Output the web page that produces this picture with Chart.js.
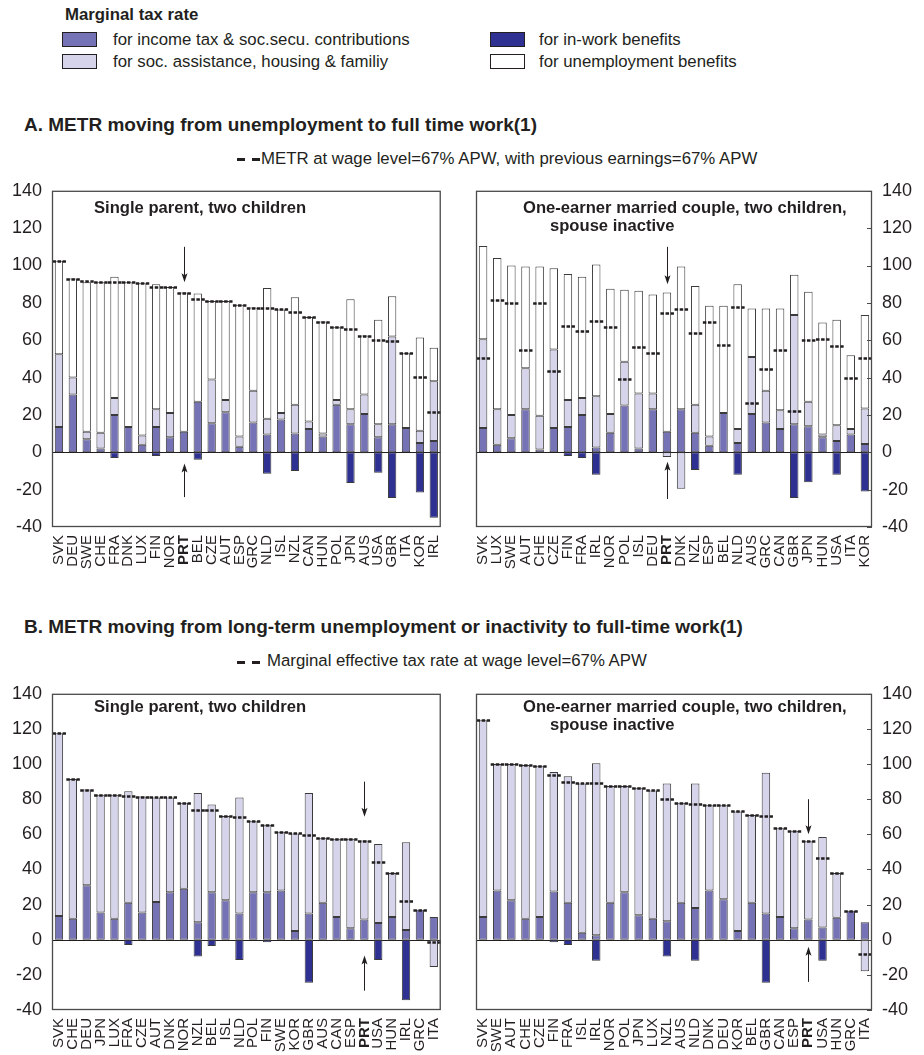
<!DOCTYPE html>
<html>
<head>
<meta charset="utf-8">
<script src="https://cdn.jsdelivr.net/npm/chart.js@4.4.1/dist/chart.umd.min.js"></script>
<style>
  html, body { margin: 0; padding: 0; background: #fff; }
  body { width: 924px; height: 1055px; position: relative; overflow: hidden;
         font-family: "Liberation Sans", Arial, Helvetica, sans-serif; color: #231f20; }
  canvas { position: absolute; }
  .txt { position: absolute; white-space: nowrap; line-height: 1; }
  .bold { font-weight: bold; }
  .box { position: absolute; width: 35px; height: 15px; border: 1px solid #231f20; box-sizing: border-box; }
  .dash { position: absolute; height: 3px; background: repeating-linear-gradient(90deg, #231f20 0 8px, transparent 8px 15px); }
</style>
</head>
<body>

<!-- legend -->
<div class="txt bold" style="left:65px; top:7px; font-size:16.8px;">Marginal tax rate</div>
<div class="box" style="left:62px; top:32px; background:#7672b6;"></div>
<div class="txt" style="left:113px; top:32px; font-size:16.8px;">for income tax &amp; soc.secu. contributions</div>
<div class="box" style="left:62px; top:54px; background:#d5d4eb;"></div>
<div class="txt" style="left:113px; top:54px; font-size:16.8px;">for soc. assistance, housing &amp; familiy</div>
<div class="box" style="left:490px; top:32px; background:#2e3092;"></div>
<div class="txt" style="left:539px; top:32px; font-size:16.8px;">for in-work benefits</div>
<div class="box" style="left:490px; top:54px; background:#ffffff;"></div>
<div class="txt" style="left:539px; top:54px; font-size:16.8px;">for unemployment benefits</div>

<!-- section A -->
<div class="txt bold" style="left:24px; top:115px; font-size:19px;">A. METR moving from unemployment to full time work(1)</div>
<div class="dash" style="left:237px; top:158px; width:23px;"></div>
<div class="txt" style="left:261px; top:151px; font-size:16.8px;">METR at wage level=67% APW, with previous earnings=67% APW</div>
<canvas id="cA1" width="460" height="412" style="left:0px; top:170px;"></canvas>
<canvas id="cA2" width="460" height="412" style="left:464px; top:170px;"></canvas>
<div class="txt bold" style="left:94px; top:200px; font-size:16.6px;">Single parent, two children</div>
<div class="txt bold" style="left:523px; top:200px; font-size:16.6px;">One-earner married couple, two children,</div>
<div class="txt bold" style="left:550px; top:218px; font-size:16.6px;">spouse inactive</div>

<!-- section B -->
<div class="txt bold" style="left:24px; top:617px; font-size:19px;">B. METR moving from long-term unemployment or inactivity to full-time work(1)</div>
<div class="dash" style="left:237px; top:661px; width:23px;"></div>
<div class="txt" style="left:267px; top:653px; font-size:16.8px;">Marginal effective tax rate at wage level=67% APW</div>
<canvas id="cB1" width="460" height="382" style="left:0px; top:673px;"></canvas>
<canvas id="cB2" width="460" height="382" style="left:464px; top:673px;"></canvas>
<div class="txt bold" style="left:94px; top:699px; font-size:16.6px;">Single parent, two children</div>
<div class="txt bold" style="left:523px; top:699px; font-size:16.6px;">One-earner married couple, two children,</div>
<div class="txt bold" style="left:550px; top:717px; font-size:16.6px;">spouse inactive</div>

<script>
// ---------- Panel A, single parent (unemployment -> full-time work) ----------
const COUNTRIES_A1 = ['SVK','DEU','SWE','CHE','FRA','DNK','LUX','FIN','NOR','PRT','BEL','CZE','AUT','ESP','GRC','NLD','ISL','NZL','CAN','HUN','POL','JPN','AUS','USA','GBR','ITA','KOR','IRL'];
const TAX_A1    = [13.5, 31, 7, 2, 20, 13.5, 4, 13.5, 8, 11, 27, 15.5, 21.5, 3, 16, 9.5, 17.5, 10, 12.5, 8.5, 25.5, 15, 20.5, 8, 15, 13, 5, 6];
const ASSIST_A1 = [39, 9, 4, 8.5, 9, 0, 5, 9.5, 13, 0, 0, 23.5, 6.5, 5.5, 17, 8.5, 3.5, 15.5, 4, 1.5, 2.5, 8, 10.5, 7, 47, 0, 6.5, 32];
const UNEMP_A1  = [50, 53, 80, 80.5, 65, 77.5, 81.5, 67, 67.5, 74.5, 58, 42, 53, 70.5, 44.5, 70, 55.5, 57.5, 56, 60, 39, 59, 31.5, 56, 21.5, 40, 50, 18];
const INWORK_A1 = [0, 0, 0, 0, -3, 0, 0, -2, 0, 0, -4, 0, 0, 0, 0, -11.5, 0, -10, 0, 0, 0, -16.5, -0.5, -11, -24.5, 0, -21.5, -35];
const METR_A1   = [102.5, 93, 91.5, 91, 91, 91, 90.5, 88.5, 88.5, 85.5, 82, 81, 81, 79, 77.5, 77, 76.5, 75, 72.5, 70, 67, 66, 62.5, 60, 59.5, 53, 40.5, 21.5];

// ---------- Panel A, one-earner couple ----------
const COUNTRIES_A2 = ['SVK','LUX','SWE','AUT','CHE','CZE','FIN','FRA','IRL','NOR','POL','ISL','DEU','PRT','DNK','NZL','ESP','BEL','NLD','AUS','GRC','CAN','GBR','JPN','HUN','USA','ITA','KOR'];
const TAX_A2    = [13, 4, 7.5, 23, 1.5, 13, 13.5, 20, 2.5, 10.5, 25, 2, 23, 11, 23, 10.5, 3.5, 21, 5, 20.5, 16, 12.5, 15, 14, 8, 6, 9.5, 4.5];
const ASSIST_A2 = [47.5, 19, 12.5, 22, 18, 42, 14.5, 9, 27.5, 10, 23.5, 29.5, 8.5, -2.5, -19.5, 15, 5, 0, 7.5, 30.5, 17, 10, 58.5, 13, 1.5, 8.5, 3, 19];
const UNEMP_A2  = [50, 81, 80, 54.5, 80, 43.5, 67.5, 65, 70.5, 67, 38.5, 55, 53, 74.5, 76.5, 63.5, 70, 57.5, 77.5, 26, 44, 54.5, 21.5, 59, 60, 56.5, 39.5, 50];
const INWORK_A2 = [0, 0, 0, 0, 0, 0, -2, -3, -12, 0, 0, 0, 0, 0, 0, -9.5, 0, 0, -12, 0, 0, 0, -24.5, -16, 0, -12, 0, -21];
const METR_A2   = [50.5, 81.5, 80, 55, 80, 43.5, 67.5, 65, 70.5, 67, 39, 56.5, 53, 74.5, 76.5, 64, 70, 57.5, 78, 26.5, 44.5, 55, 22, 60, 60.5, 57, 40, 50.5];

// ---------- Panel B, single parent (long-term unemployment / inactivity -> full-time work) ----------
const COUNTRIES_B1 = ['SVK','CHE','DEU','JPN','LUX','FRA','CZE','AUT','DNK','NOR','NZL','BEL','ISL','NLD','POL','FIN','SWE','KOR','GBR','AUS','CAN','ESP','PRT','USA','HUN','IRL','GRC','ITA'];
const TAX_B1    = [13.5, 12, 31, 15.5, 12, 21, 15.5, 21.5, 27, 29, 10, 27, 22.5, 15, 27, 27, 28, 5, 15, 21, 13, 6.5, 11.5, 9.5, 13, 5.5, 17, 13];
const ASSIST_B1 = [104, 79.5, 54.5, 67, 70.5, 63.5, 66, 59.5, 54, 49, 73.5, 50, 48, 66, 40.5, 38.5, 33.5, 55.5, 68.5, 37, 44.5, 51, 45, 45, 25, 50, 0, -15.5];
const INWORK_B1 = [0, 0, 0, 0, 0, -3, 0, 0, 0, 0, -9.5, -3.5, 0, -11.5, 0, -1.5, 0, 0, -24.5, -0.5, -0.5, 0, 0, -11.5, 0, -34.5, 0, 0];
const METR_B1   = [117.5, 91.5, 85.5, 82.5, 82.5, 81.8, 81.5, 81, 81, 78, 74, 74, 70.5, 70, 67.5, 65.5, 61.5, 60.5, 59.5, 58, 57.5, 57.5, 56, 44.5, 38, 22, 17, -1.5];

// ---------- Panel B, one-earner couple ----------
const COUNTRIES_B2 = ['SVK','SWE','AUT','CHE','CZE','FIN','FRA','ISL','IRL','NOR','POL','JPN','LUX','NZL','AUS','NLD','DNK','DEU','KOR','BEL','GBR','CAN','ESP','PRT','USA','HUN','GRC','ITA'];
const TAX_B2    = [13, 28, 22.5, 12, 13, 27.5, 21, 4, 2.5, 21, 27, 14, 12, 10.5, 21, 18, 28, 23, 5, 21, 15, 13, 6.5, 11.5, 7, 12.5, 16.5, 10];
const ASSIST_B2 = [112, 72, 77.5, 87.5, 86, 68, 72, 85, 98, 66.5, 60.5, 72.5, 73, 78.5, 57, 71, 48.5, 53.5, 68, 50, 80, 50.5, 55.5, 44.5, 51.5, 25.5, 0, -18];
const INWORK_B2 = [0, 0, 0, 0, 0, -1.5, -3, 0, -12, 0, 0, 0, 0, -9.5, 0, -12, 0, 0, 0, 0, -24.5, -0.5, 0, 0, -12, 0, 0, 0];
const METR_B2   = [125, 100, 100, 99.5, 99, 94, 90, 89, 89, 87.5, 87.5, 86.5, 85, 80, 78, 77.5, 76.5, 76.5, 73, 71, 70.5, 63.5, 62, 56, 46.5, 38, 16.5, -8];

// value axis
const Y_MIN = -40, Y_MAX = 140, Y_STEP = 20;

// arrows marking Portugal: [from, to] in axis units
const ARROWS_A1 = { country: 'PRT', down: [110, 91], up: [-24, -6] };
const ARROWS_A2 = { country: 'PRT', down: [110, 90], up: [-25, -5] };
const ARROWS_B1 = { country: 'PRT', down: [90, 70], up: [-29, -9] };
const ARROWS_B2 = { country: 'PRT', down: [80, 60], up: [-24, -4] };

const FONT = '"Liberation Sans", Arial, Helvetica, sans-serif';
const INK = '#231f20';
const COL_TAX = '#7672b6', COL_ASSIST = '#d5d4eb', COL_INWORK = '#2e3092', COL_UNEMP = '#ffffff';
const EDGE = '#3b3b3b';

const nz = arr => arr.map(v => (v === 0 ? null : v));

function drawArrow(ctx, x, yFrom, yTo) {
  const d = yTo > yFrom ? 1 : -1;
  ctx.beginPath();
  ctx.moveTo(x, yFrom);
  ctx.lineTo(x, yTo - d * 4);
  ctx.stroke();
  ctx.beginPath();
  ctx.moveTo(x, yTo);
  ctx.lineTo(x - 3, yTo - d * 9);
  ctx.lineTo(x, yTo - d * 7);
  ctx.lineTo(x + 3, yTo - d * 9);
  ctx.closePath();
  ctx.fill();
}

const panelDecor = {
  id: 'panelDecor',
  beforeDatasetsDraw(chart) {
    const { ctx, chartArea: a, scales: { y } } = chart;
    const y0 = Math.round(y.getPixelForValue(0)) + 0.5;
    ctx.save();
    ctx.strokeStyle = INK;
    ctx.lineWidth = 1.2;
    ctx.beginPath();
    ctx.moveTo(a.left, y0);
    ctx.lineTo(a.right, y0);
    ctx.stroke();
    ctx.restore();
  },
  afterDatasetsDraw(chart, args, opts) {
    const { ctx, chartArea: a, scales: { x, y } } = chart;
    ctx.save();
    // METR markers
    ctx.strokeStyle = INK;
    ctx.lineWidth = 2.6;
    ctx.setLineDash([3.5, 1.6]);
    opts.metr.forEach((v, i) => {
      if (v === null || v === undefined) return;
      const px = x.getPixelForValue(i);
      const py = Math.round(y.getPixelForValue(v)) + 0.5;
      ctx.beginPath();
      ctx.moveTo(px - 6.5, py);
      ctx.lineTo(px + 7, py);
      ctx.stroke();
    });
    ctx.setLineDash([]);
    // frame
    ctx.strokeStyle = '#4a4a4a';
    ctx.lineWidth = 1.3;
    ctx.strokeRect(a.left + 0.5, a.top + 0.5, a.width - 1, a.height - 1);
    // inward ticks on the right-hand value axis
    if (opts.side === 'right') {
      ctx.lineWidth = 1;
      for (let v = Y_MIN; v <= Y_MAX; v += Y_STEP) {
        const py = Math.round(y.getPixelForValue(v)) + 0.5;
        ctx.beginPath();
        ctx.moveTo(a.right - 5, py);
        ctx.lineTo(a.right, py);
        ctx.stroke();
      }
    }
    // arrows
    if (opts.arrows) {
      const idx = chart.data.labels.indexOf(opts.arrows.country);
      const px = Math.round(x.getPixelForValue(idx)) + 0.5;
      ctx.strokeStyle = INK;
      ctx.fillStyle = INK;
      ctx.lineWidth = 1;
      drawArrow(ctx, px, y.getPixelForValue(opts.arrows.down[0]), y.getPixelForValue(opts.arrows.down[1]));
      drawArrow(ctx, px, y.getPixelForValue(opts.arrows.up[0]), y.getPixelForValue(opts.arrows.up[1]));
    }
    ctx.restore();
  }
};

function barSet(label, data, color) {
  return {
    type: 'bar', label, data: nz(data), backgroundColor: color,
    borderColor: EDGE, borderWidth: 1, borderSkipped: false,
    categoryPercentage: 1, barPercentage: 0.6, stack: 'metr'
  };
}

function makePanel(id, labels, parts, metr, side, arrows, xAxisHeight) {
  const datasets = [
    barSet('for income tax & soc.secu. contributions', parts.tax, COL_TAX),
    barSet('for soc. assistance, housing & familiy', parts.assist, COL_ASSIST)
  ];
  if (parts.unemp) datasets.push(barSet('for unemployment benefits', parts.unemp, COL_UNEMP));
  datasets.push(barSet('for in-work benefits', parts.inwork, COL_INWORK));

  new Chart(document.getElementById(id), {
    data: { labels, datasets },
    plugins: [panelDecor],
    options: {
      responsive: false, animation: false, devicePixelRatio: 1,
      layout: { padding: side === 'left' ? { top: 9, right: 12, left: 0, bottom: 0 } : { top: 9, left: 12, right: 0, bottom: 0 } },
      plugins: {
        legend: { display: false }, tooltip: { enabled: false },
        panelDecor: { metr, side, arrows }
      },
      scales: {
        x: {
          stacked: true,
          grid: { display: false, drawTicks: false },
          border: { display: false },
          ticks: {
            autoSkip: false, minRotation: 90, maxRotation: 90, padding: 8, color: INK,
            font: (c) => ({ family: FONT, size: 15, weight: (c.tick && c.tick.label === 'PRT') ? 'bold' : 'normal' })
          },
          afterFit: (s) => { s.height = xAxisHeight; }
        },
        y: {
          stacked: true, position: side, min: Y_MIN, max: Y_MAX,
          grid: { display: false, drawTicks: false },
          border: { display: false },
          ticks: { stepSize: Y_STEP, padding: 10, color: INK, font: { family: FONT, size: 18 } },
          afterFit: (s) => { s.width = 52; }
        }
      }
    }
  });
}

makePanel('cA1', COUNTRIES_A1, { tax: TAX_A1, assist: ASSIST_A1, unemp: UNEMP_A1, inwork: INWORK_A1 }, METR_A1, 'left', ARROWS_A1, 55);
makePanel('cA2', COUNTRIES_A2, { tax: TAX_A2, assist: ASSIST_A2, unemp: UNEMP_A2, inwork: INWORK_A2 }, METR_A2, 'right', ARROWS_A2, 55);
makePanel('cB1', COUNTRIES_B1, { tax: TAX_B1, assist: ASSIST_B1, inwork: INWORK_B1 }, METR_B1, 'left', ARROWS_B1, 45);
makePanel('cB2', COUNTRIES_B2, { tax: TAX_B2, assist: ASSIST_B2, inwork: INWORK_B2 }, METR_B2, 'right', ARROWS_B2, 45);
</script>
</body>
</html>
